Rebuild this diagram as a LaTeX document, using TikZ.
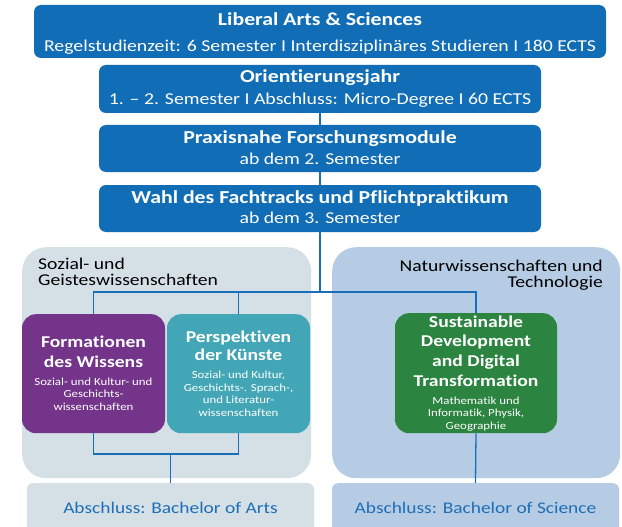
\documentclass[tikz,border=0pt]{standalone}
\usepackage{fontspec}
\setmainfont{Carlito}[FakeStretch=1.19,Ligatures=CommonOff]
\usetikzlibrary{calc,positioning}

\definecolor{lasblue}{RGB}{17,109,182}
\definecolor{grpgray}{RGB}{212,224,230}
\definecolor{grpblue}{RGB}{182,204,228}
\definecolor{formpurple}{RGB}{115,52,137}
\definecolor{perspteal}{RGB}{66,166,182}
\definecolor{sustgreen}{RGB}{43,132,64}
\definecolor{linkblue}{RGB}{25,110,185}
\definecolor{degreeblue}{RGB}{30,110,182}

\newcommand{\tightlines}{\lineskiplimit=-50pt\relax}
\newcommand{\boxtitle}{\fontsize{18.3}{20}\selectfont\bfseries}
\newcommand{\tracktitle}{\fontsize{16.5}{12.4}\selectfont\bfseries}
\newcommand{\tracksub}{\fontsize{10.8}{12.4}\selectfont\mdseries}

\begin{document}
\begin{tikzpicture}[
	x=1pt,y=-1pt,
	stagebox/.style={fill=lasblue,rounded corners=7pt,inner sep=0pt},
	stagetext/.style={text=white,anchor=base,align=center,inner sep=0pt,
		font=\fontsize{16.6}{20}\selectfont\tightlines},
	groupbox/.style={rounded corners=24pt,inner sep=0pt,anchor=north west},
	grplabel/.style={inner sep=0pt,font=\fontsize{16.5}{16}\selectfont\tightlines},
	trackbox/.style={rounded corners=14pt,inner sep=0pt,anchor=north},
	tracktext/.style={text=white,anchor=base,align=center,inner sep=0pt,
		font=\tracksub\tightlines},
	degreebox/.style={rounded corners=6pt,text=degreeblue,inner sep=0pt,anchor=north,
		font=\fontsize{16.3}{18}\selectfont,text height=12pt,text depth=12pt},
	link/.style={draw=linkblue,line width=1.3pt}
]
\clip (0,0) rectangle (622,527);
\fill[white] (0,0) rectangle (622,527);

% study stages
\node[stagebox,minimum width=572pt,minimum height=53pt] (las) at (320,31.5) {};
\node[stagebox,minimum width=442pt,minimum height=48pt] (orient) at (320,89) {};
\node[stagebox,minimum width=442pt,minimum height=47pt] (praxis) at (320,148.5) {};
\node[stagebox,minimum width=442pt,minimum height=47pt] (wahl) at (320,208.5) {};
\node[stagetext] (lastext) at (320,51.7)
	{{\boxtitle Liberal Arts \& Sciences}\\[6pt]
	 Regelstudienzeit: 6 Semester I Interdisziplinäres Studieren I 180 ECTS};
\node[stagetext] (orienttext) at (320,104.3)
	{{\boxtitle Orientierungsjahr}\\[2pt] 1. – 2. Semester I Abschluss: Micro-Degree I 60 ECTS};
\node[stagetext] (praxistext) at (320,164.3)
	{{\boxtitle Praxisnahe Forschungsmodule}\\[1pt] ab dem 2. Semester};
\node[stagetext] (wahltext) at (320,223.3)
	{{\boxtitle Wahl des Fachtracks und Pflichtpraktikum}\\[0pt] ab dem 3. Semester};

% faculty groups
\node[groupbox,fill=grpgray,minimum width=289pt,minimum height=231pt] (gsw) at (22,247) {};
\node[groupbox,fill=grpblue,minimum width=288pt,minimum height=231pt] (nwt) at (332,247) {};
\node[grplabel,anchor=base west,align=left] (gswlabel) at (38,285) {Sozial- und\\Geisteswissenschaften};
\node[grplabel,anchor=base east,align=right] (nwtlabel) at (603,287) {Naturwissenschaften und\\Technologie};

% tracks
\node[trackbox,fill=formpurple,minimum width=143pt,minimum height=119pt] (form) at (93.5,314) {};
\node[trackbox,fill=perspteal,minimum width=143pt,minimum height=119pt] (persp) at (238.5,314) {};
\node[trackbox,fill=sustgreen,minimum width=162pt,minimum height=120pt] (sust) at (476,313) {};
\node[tracktext] (formtext) at (93.5,410)
	{{\tracktitle Formationen}\\[7.6pt] {\tracktitle des Wissens}\\[5.6pt]
	 Sozial- und Kultur- und\\ Geschichts-\\ wissenschaften};
\node[tracktext] (persptext) at (238.5,416)
	{{\tracktitle Perspektiven}\\[5.6pt] {\tracktitle der Künste}\\[5.6pt]
	 Sozial- und Kultur,\\ Geschichts-. Sprach-,\\ und Literatur-\\ wissenschaften};
\node[tracktext] (susttext) at (476,429)
	{{\tracktitle Sustainable}\\[7.3pt] {\tracktitle Development}\\[7.3pt]
	 {\tracktitle and Digital}\\[7.3pt] {\tracktitle Transformation}\\[5.6pt]
	 Mathematik und\\ Informatik, Physik,\\ Geographie};

% degrees
\node[degreebox,fill=grpgray,minimum width=287pt,minimum height=60pt] (ba) at (170.5,483) {Abschluss: Bachelor of Arts};
\node[degreebox,fill=grpblue,minimum width=287pt,minimum height=60pt] (bs) at (475.5,483) {Abschluss: Bachelor of Science};

% connectors
\coordinate (split) at (320,292);
\coordinate (bajoin) at (170.5,454);
\draw[link] (orient.south) -- (praxis.north);
\draw[link] (praxis.south) -- (wahl.north);
\draw[link] (wahl.south) -- (split);
\draw[link] (form.north) |- (split) -| (sust.north);
\draw[link] (persp.north) -- (persp.north |- split);
\draw[link] (form.south) |- (bajoin) -| (persp.south);
\draw[link] (bajoin) -- (ba.north);
\draw[link] (sust.south) -- (bs.north);
\end{tikzpicture}
\end{document}
